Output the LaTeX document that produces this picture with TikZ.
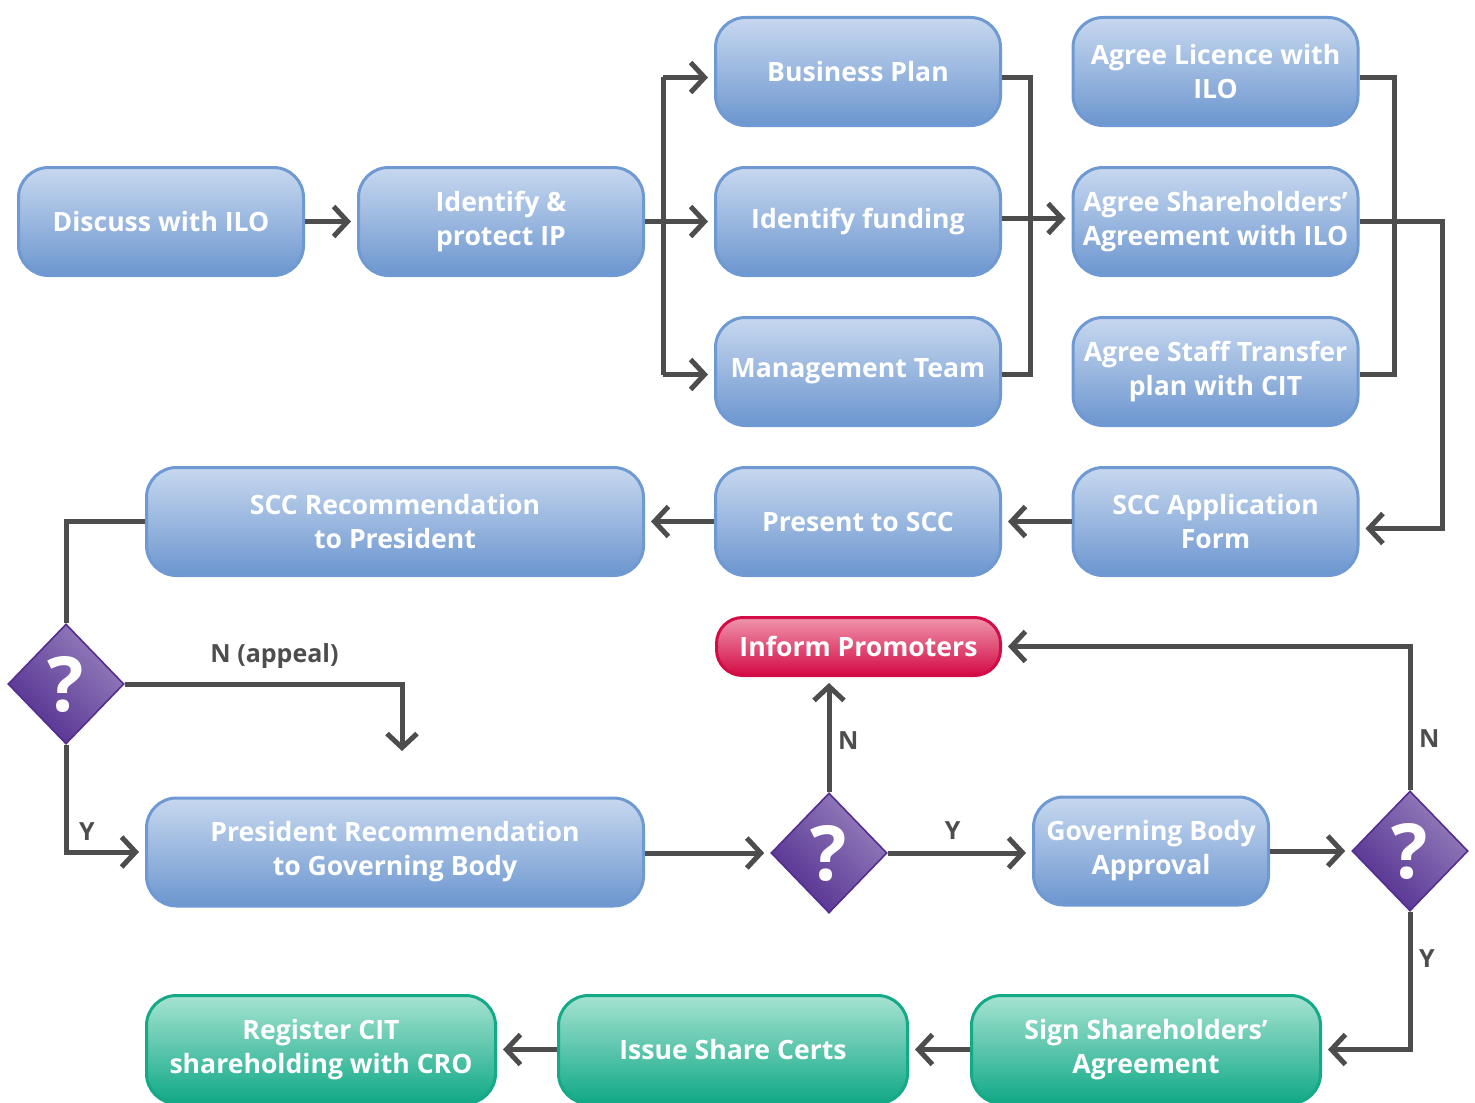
\documentclass[tikz,border=0pt]{standalone}
\usepackage{fontspec}
\setmainfont{Open Sans}
\usepackage{tikz}
\usetikzlibrary{shapes.geometric,arrows.meta,positioning}
\definecolor{bluetop}{HTML}{C7D8EF}
\definecolor{bluebot}{HTML}{6C96CF}
\definecolor{blueline}{HTML}{6F99D2}
\definecolor{redtop}{HTML}{EF95AC}
\definecolor{redbot}{HTML}{D30A43}
\definecolor{redline}{HTML}{D20C46}
\definecolor{greentop}{HTML}{A6E3D1}
\definecolor{greenbot}{HTML}{0FA886}
\definecolor{greenline}{HTML}{14AA87}
\definecolor{qdark}{HTML}{532E90}
\definecolor{qlight}{HTML}{9580BC}
\definecolor{linegrey}{HTML}{4D4D4D}

\begin{document}
\begin{tikzpicture}[x=0.5pt, y=-0.5pt,
    stepbox/.style={rectangle, rounded corners=15pt, line width=1.5pt,
                    text=white, align=center, inner xsep=0pt,
                    font=\bfseries\fontsize{13.3}{17}\selectfont,
                    minimum width=142.5pt, minimum height=54pt},
    bluebox/.style={stepbox, draw=blueline, top color=bluetop, bottom color=bluebot},
    widebox/.style={bluebox, minimum width=248.5pt},
    greenbox/.style={stepbox, draw=greenline, top color=greentop, bottom color=greenbot,
                     minimum width=174.5pt},
    redbox/.style={stepbox, draw=redline, top color=redtop, bottom color=redbot,
                   rounded corners=13pt, minimum height=29pt, minimum width=142pt},
    query/.style={diamond, draw=qdark, line width=0.8pt, inner sep=0pt,
                  minimum width=58pt, minimum height=60pt,
                  bottom color=qdark, middle color=qdark, top color=qlight,
                  shading angle=-45, text=white,
                  font=\bfseries\fontsize{38}{40}\selectfont},
    link/.style={draw=linegrey, line width=2.5pt},
    arr/.style={link, -{Straight Barb[length=7pt,width=15pt]}, shorten >=3pt},
    lab/.style={text=linegrey, font=\bfseries\fontsize{12.5}{14}\selectfont}]

  \useasboundingbox (0,0) rectangle (1475,1102);

  \node[bluebox] (discuss)  at (161,221.5)   {Discuss with ILO};
  \node[bluebox] (identify) at (501,221.5)   {Identify \&\\protect IP};
  \node[bluebox] (plan)     at (858,71.5)    {Business Plan};
  \node[bluebox] (funding)  at (858,221.5)   {Identify funding};
  \node[bluebox] (team)     at (858,371.5)   {Management Team};
  \node[bluebox] (licence)  at (1215.5,71.5)  {Agree Licence with\\ILO};
  \node[bluebox] (agree)    at (1215.5,221.5) {Agree Shareholders’\\Agreement with ILO};
  \node[bluebox] (staff)    at (1215.5,371.5) {Agree Staff Transfer\\plan with CIT};
  \node[bluebox] (form)     at (1215.5,521.5) {SCC Application\\Form};
  \node[bluebox] (present)  at (858,521.5)   {Present to SCC};
  \node[widebox] (sccrec)   at (395,521.5)   {SCC Recommendation\\to President};
  \node[redbox]  (promoters) at (858.5,646.5) {Inform Promoters};
  \node[query]   (q1) at (66,684)  {?};
  \node[widebox] (presrec)  at (395,852)     {President Recommendation\\to Governing Body};
  \node[query]   (q2) at (829,853) {?};
  \node[bluebox, minimum width=117.5pt] (approval) at (1151,851) {Governing Body\\Approval};
  \node[query]   (q3) at (1410,851) {?};
  \node[greenbox] (sign)     at (1146,1049.5) {Sign Shareholders’\\Agreement};
  \node[greenbox] (issue)    at (733,1049.5)  {Issue Share Certs};
  \node[greenbox] (register) at (321,1049.5)  {Register CIT\\shareholding with CRO};
  \coordinate (appeal) at (402,757);

  \draw[arr] (discuss) -- (identify);
  \draw[link] (identify.east) -- ++(18,0) coordinate (fork);
  \draw[link] ([yshift=-3pt]fork |- plan) -- ([yshift=-1.5pt]fork |- team);
  \draw[arr] ([yshift=-3pt]fork |- plan) -- ([yshift=-3pt]plan.west);
  \draw[arr] (fork) -- (funding);
  \draw[arr] ([yshift=-1.5pt]fork |- team) -- ([yshift=-1.5pt]team.west);
  \draw[link] ([yshift=-3pt]plan.east) -- ++(28,0) |- ([yshift=-1.5pt]team.east);
  \draw[arr] ([yshift=1.5pt]funding.east) -- ([yshift=1.5pt]agree.west);
  \draw[link] ([yshift=-3pt]licence.east) -- ++(35,0) |- ([yshift=-1.5pt]staff.east);
  \draw[arr] (agree.east) -- ++(83,0) |- ([yshift=-3.5pt]form.east);
  \draw[arr] (form) -- (present);
  \draw[arr] (present) -- (sccrec);
  \draw[link] (sccrec.west) -| (q1.north);
  \draw[arr] (q1.east) -| (appeal) node[lab, pos=0.27, above=3pt] {N (appeal)};
  \draw[arr] (q1.south) |- (presrec.west) node[lab, pos=0.5, above right=1pt and 2pt] {Y};
  \draw[arr] (presrec.east |- q2) -- (q2);
  \draw[arr] (q2.north) -- (q2.north |- promoters.south) node[lab, pos=0.45, right=0pt] {N};
  \draw[arr] (q2) -- (approval.west |- q2) node[lab, pos=0.45, above=2pt] {Y};
  \draw[arr] (approval) -- (q3);
  \draw[arr] (q3.north) |- (promoters.east) node[lab, pos=0.18, right=0pt] {N};
  \draw[arr] (q3.south) |- (sign.east) node[lab, pos=0.17, right=0pt] {Y};
  \draw[arr] (sign) -- (issue);
  \draw[arr] (issue) -- (register);
\end{tikzpicture}
\end{document}
